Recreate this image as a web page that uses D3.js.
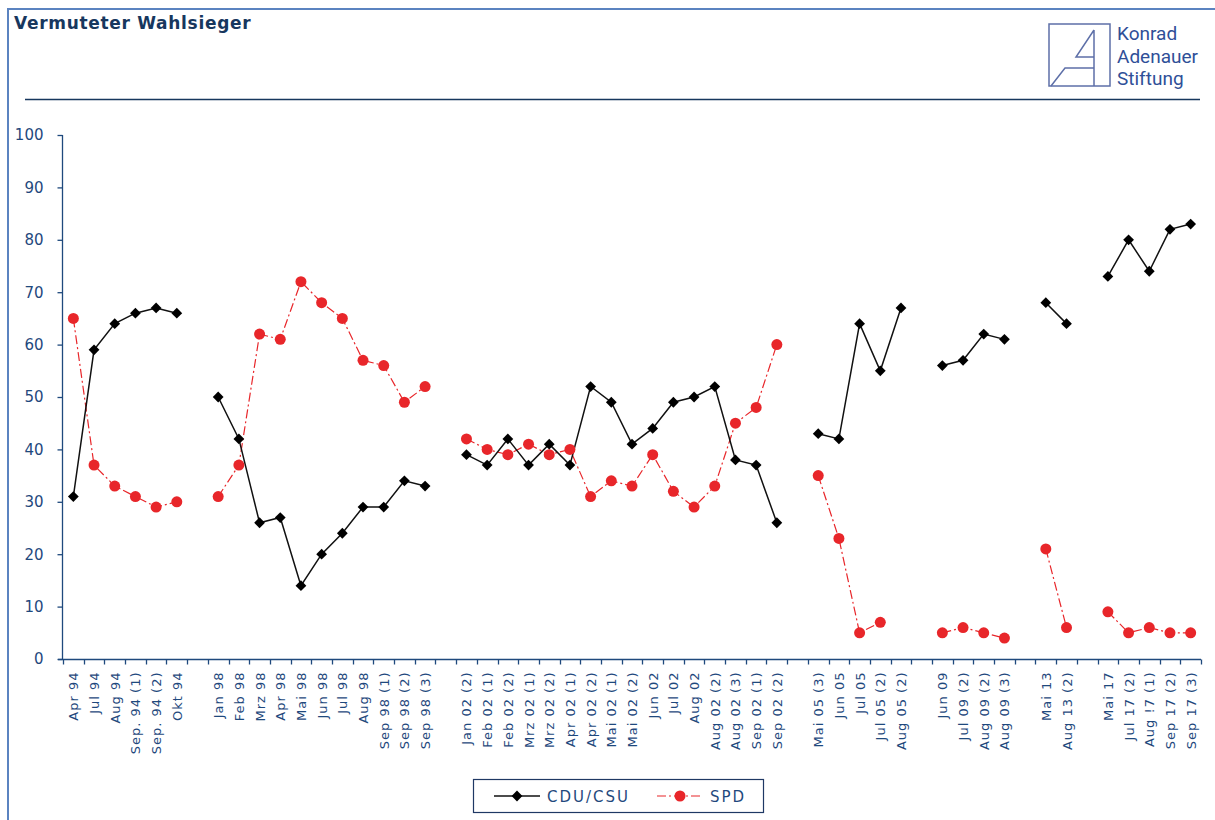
<!DOCTYPE html>
<html>
<head>
<meta charset="utf-8">
<script src="https://cdn.jsdelivr.net/npm/d3@7"></script>
<style>
  body { margin: 0; background: #fff; }
  svg { display: block; font-family: "DejaVu Sans", Verdana, sans-serif; }
</style>
</head>
<body>
<svg width="1215" height="820"></svg>
<script>
// Kategorien ("" = Lücke zwischen den Wahljahren)
var categories = [
  "Apr 94", "Jul 94", "Aug 94", "Sep. 94 (1)", "Sep. 94 (2)", "Okt 94", "",
  "Jan 98", "Feb 98", "Mrz 98", "Apr 98", "Mai 98", "Jun 98", "Jul 98", "Aug 98", "Sep 98 (1)", "Sep 98 (2)", "Sep 98 (3)", "",
  "Jan 02 (2)", "Feb 02 (1)", "Feb 02 (2)", "Mrz 02 (1)", "Mrz 02 (2)", "Apr 02 (1)", "Apr 02 (2)", "Mai 02 (1)", "Mai 02 (2)", "Jun 02", "Jul 02", "Aug 02", "Aug 02 (2)", "Aug 02 (3)", "Sep 02 (1)", "Sep 02 (2)", "",
  "Mai 05 (3)", "Jun 05", "Jul 05", "Jul 05 (2)", "Aug 05 (2)", "",
  "Jun 09", "Jul 09 (2)", "Aug 09 (2)", "Aug 09 (3)", "",
  "Mai 13", "Aug 13 (2)", "",
  "Mai 17", "Jul 17 (2)", "Aug !7 (1)", "Sep 17 (2)", "Sep 17 (3)"
];

var cdu = [
  31, 59, 64, 66, 67, 66, null,
  50, 42, 26, 27, 14, 20, 24, 29, 29, 34, 33, null,
  39, 37, 42, 37, 41, 37, 52, 49, 41, 44, 49, 50, 52, 38, 37, 26, null,
  43, 42, 64, 55, 67, null,
  56, 57, 62, 61, null,
  68, 64, null,
  73, 80, 74, 82, 83
];

var spd = [
  65, 37, 33, 31, 29, 30, null,
  31, 37, 62, 61, 72, 68, 65, 57, 56, 49, 52, null,
  42, 40, 39, 41, 39, 40, 31, 34, 33, 39, 32, 29, 33, 45, 48, 60, null,
  35, 23, 5, 7, null, null,
  5, 6, 5, 4, null,
  21, 6, null,
  9, 5, 6, 5, 5
];

var yTicks = [0, 10, 20, 30, 40, 50, 60, 70, 80, 90, 100];

var navy = "#1f497d";
var red = "#e8262a";

var svg = d3.select("svg");

// Rahmen
svg.append("line").attr("x1", 8).attr("x2", 1215).attr("y1", 9).attr("y2", 9)
  .attr("stroke", "#5b83c0").attr("stroke-width", 2);
svg.append("line").attr("x1", 8).attr("x2", 8).attr("y1", 8).attr("y2", 820)
  .attr("stroke", "#5b83c0").attr("stroke-width", 2);

// Titel
svg.append("text")
  .attr("x", 14).attr("y", 29)
  .attr("fill", "#17375e")
  .attr("font-size", 17).attr("font-weight", "bold")
  .attr("letter-spacing", 0.7)
  .text("Vermuteter Wahlsieger");

svg.append("line").attr("x1", 25).attr("x2", 1200).attr("y1", 99.5).attr("y2", 99.5)
  .attr("stroke", "#17375e").attr("stroke-width", 1.5);

// Logo
var logo = svg.append("g").attr("fill", "none").attr("stroke", "#5d6fa8").attr("stroke-width", 1.5);
logo.append("rect").attr("x", 1049).attr("y", 24).attr("width", 61).attr("height", 62);
logo.append("path").attr("d", "M1094,30 L1094,86 M1094,30 L1076,57 L1094,57 M1051,86 L1065,68 L1094,68");
svg.append("g")
  .attr("fill", "#2f4f98")
  .attr("font-family", "Roboto, 'Open Sans', sans-serif")
  .attr("font-size", 19)
  .selectAll("text")
  .data(["Konrad", "Adenauer", "Stiftung"])
  .enter().append("text")
  .attr("x", 1117)
  .attr("y", function(d, i) { return 40 + i * 22.5; })
  .text(function(d) { return d; });

// Skalen
var x = d3.scaleBand().domain(d3.range(categories.length)).range([63, 1201]);
var y = d3.scaleLinear().domain([0, 100]).range([659, 135]);

// y-Achse
var yAxis = svg.append("g")
  .attr("transform", "translate(62.5,0)")
  .call(d3.axisLeft(y).tickValues(yTicks).tickSize(5).tickPadding(14));
yAxis.selectAll("path, line").attr("stroke", navy).attr("stroke-width", 1.3);
yAxis.select(".domain").attr("d", "M0,135V659.5");
yAxis.selectAll("text").attr("fill", navy).attr("font-size", 15)
  .attr("font-family", "'DejaVu Sans', sans-serif");

// x-Achse: Ticks an den Kategoriegrenzen
var xg = svg.append("g").attr("transform", "translate(0,659.5)");
xg.append("line").attr("x1", 58).attr("x2", 1201).attr("stroke", navy).attr("stroke-width", 1.3);
xg.selectAll(".tick")
  .data(d3.range(categories.length + 1))
  .enter().append("line")
  .attr("x1", function(i) { return Math.round(63 + i * x.step()) + 0.5; })
  .attr("x2", function(i) { return Math.round(63 + i * x.step()) + 0.5; })
  .attr("y1", 0).attr("y2", 5)
  .attr("stroke", navy).attr("stroke-width", 1.3);
xg.selectAll(".lbl")
  .data(categories)
  .enter().append("text")
  .attr("transform", function(d, i) {
    return "translate(" + (x(i) + x.bandwidth() / 2 + 5) + ",12) rotate(-90)";
  })
  .attr("text-anchor", "end")
  .attr("fill", navy)
  .attr("font-size", 13)
  .attr("letter-spacing", 1)
  .text(function(d) { return d; });

// Linien
var cx = function(d, i) { return x(i) + x.bandwidth() / 2; };
var line = d3.line()
  .defined(function(d) { return d != null; })
  .x(cx)
  .y(function(d) { return y(d); });

svg.append("path").datum(spd)
  .attr("fill", "none").attr("stroke", red).attr("stroke-width", 1.2)
  .attr("stroke-dasharray", "9,3,2,3")
  .attr("d", line);

svg.append("path").datum(cdu)
  .attr("fill", "none").attr("stroke", "#111").attr("stroke-width", 1.5)
  .attr("d", line);

svg.append("g").selectAll("circle")
  .data(spd.map(function(v, i) { return {v: v, i: i}; }).filter(function(d) { return d.v != null; }))
  .enter().append("circle")
  .attr("cx", function(d) { return cx(d, d.i); })
  .attr("cy", function(d) { return y(d.v); })
  .attr("r", 5.5)
  .attr("fill", red);

var diamond = d3.symbol().type(d3.symbolSquare).size(58);
svg.append("g").selectAll("path")
  .data(cdu.map(function(v, i) { return {v: v, i: i}; }).filter(function(d) { return d.v != null; }))
  .enter().append("path")
  .attr("d", diamond)
  .attr("transform", function(d) { return "translate(" + cx(d, d.i) + "," + y(d.v) + ") rotate(45)"; })
  .attr("fill", "#000");

// Legende
var leg = svg.append("g");
leg.append("rect").attr("x", 473.5).attr("y", 779.5).attr("width", 290).attr("height", 33)
  .attr("fill", "#fff").attr("stroke", "#1f3864").attr("stroke-width", 1.2);
leg.append("line").attr("x1", 494).attr("x2", 540).attr("y1", 796).attr("y2", 796)
  .attr("stroke", "#111").attr("stroke-width", 1.5);
leg.append("path").attr("d", diamond)
  .attr("transform", "translate(517,796) rotate(45)").attr("fill", "#000");
leg.append("text").attr("x", 547).attr("y", 802).attr("fill", navy)
  .attr("font-size", 15).attr("letter-spacing", 2).text("CDU/CSU");
leg.append("line").attr("x1", 657).attr("x2", 703).attr("y1", 796).attr("y2", 796)
  .attr("stroke", red).attr("stroke-width", 1.2).attr("stroke-dasharray", "9,3,2,3");
leg.append("circle").attr("cx", 680).attr("cy", 796).attr("r", 5.5).attr("fill", red);
leg.append("text").attr("x", 710).attr("y", 802).attr("fill", navy)
  .attr("font-size", 15).attr("letter-spacing", 2).text("SPD");
</script>
</body>
</html>
